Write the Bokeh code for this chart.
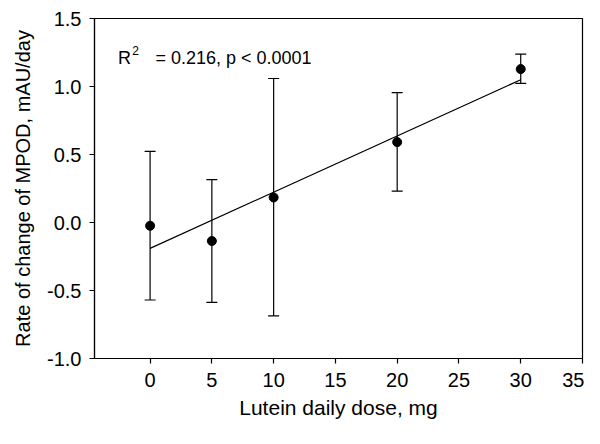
from bokeh.plotting import figure
from bokeh.models import ColumnDataSource, Whisker, TeeHead, Range1d, FixedTicker, Label, CustomJSTickFormatter
from bokeh.embed import file_html
from bokeh.resources import INLINE

# Data
dose = [0, 5, 10, 20, 30]
rate = [-0.024, -0.136, 0.184, 0.591, 1.128]
err_upper = [0.523, 0.315, 1.059, 0.955, 1.238]
err_lower = [-0.570, -0.588, -0.687, 0.230, 1.023]
fit_x = [0, 30]
fit_y = [-0.19, 1.05]
x_ticks = [0, 5, 10, 15, 20, 25, 30, 35]
y_ticks = [-1.0, -0.5, 0.0, 0.5, 1.0, 1.5]
annot_text = "= 0.216, p < 0.0001"

FONT = "Liberation Sans"

p = figure(width=584, height=428, output_backend="svg", toolbar_location=None,
           x_range=Range1d(-4.5, 35), y_range=Range1d(-1.0, 1.5),
           min_border_left=94, min_border_right=2, min_border_top=18, min_border_bottom=70)
p.grid.visible = False
p.outline_line_color = "black"
p.outline_line_width = 1.2
p.background_fill_color = "white"
p.border_fill_color = "white"

for ax in (p.xaxis[0], p.yaxis[0]):
    ax.axis_line_color = "black"
    ax.axis_line_width = 1.2
    ax.major_tick_line_color = "black"
    ax.major_tick_line_width = 1.2
    ax.major_tick_out = 5
    ax.major_tick_in = 0
    ax.minor_tick_line_color = None
    ax.major_label_text_font = FONT
    ax.major_label_text_font_size = "20px"
    ax.major_label_text_color = "black"
    ax.axis_label_text_font = FONT
    ax.axis_label_text_font_style = "normal"
    ax.axis_label_text_color = "black"

p.xaxis.axis_label_text_font_size = "21px"
p.yaxis.axis_label_text_font_size = "20px"
p.xaxis.ticker = FixedTicker(ticks=x_ticks)
p.yaxis.ticker = FixedTicker(ticks=y_ticks)
p.yaxis.formatter = CustomJSTickFormatter(code="return tick.toFixed(1);")
p.xaxis.axis_label = "Lutein daily dose, mg"
p.yaxis.axis_label = "Rate of change of MPOD, mAU/day"
p.xaxis.major_label_standoff = 9
p.yaxis.major_label_standoff = 8
p.xaxis.axis_label_standoff = 6
p.yaxis.axis_label_standoff = 10

src = ColumnDataSource(dict(x=dose, y=rate, upper=err_upper, lower=err_lower))
p.add_layout(Whisker(source=src, base="x", upper="upper", lower="lower",
                     line_color="black", line_width=1.2,
                     upper_head=TeeHead(size=11, line_color="black", line_width=1.2),
                     lower_head=TeeHead(size=11, line_color="black", line_width=1.2)))
p.line(fit_x, fit_y, line_color="black", line_width=1.2)
p.scatter("x", "y", source=src, size=9, color="black")

p.add_layout(Label(x=-2.6, y=1.211, text="R", text_font=FONT, text_font_size="18px",
                   text_baseline="alphabetic", text_color="black"))
p.add_layout(Label(x=-1.45, y=1.265, text="2", text_font=FONT, text_font_size="12px",
                   text_baseline="alphabetic", text_color="black"))
p.add_layout(Label(x=0.43, y=1.211, text=annot_text, text_font=FONT, text_font_size="18px",
                   text_baseline="alphabetic", text_color="black"))

open("out.html", "w").write(file_html(p, INLINE))
